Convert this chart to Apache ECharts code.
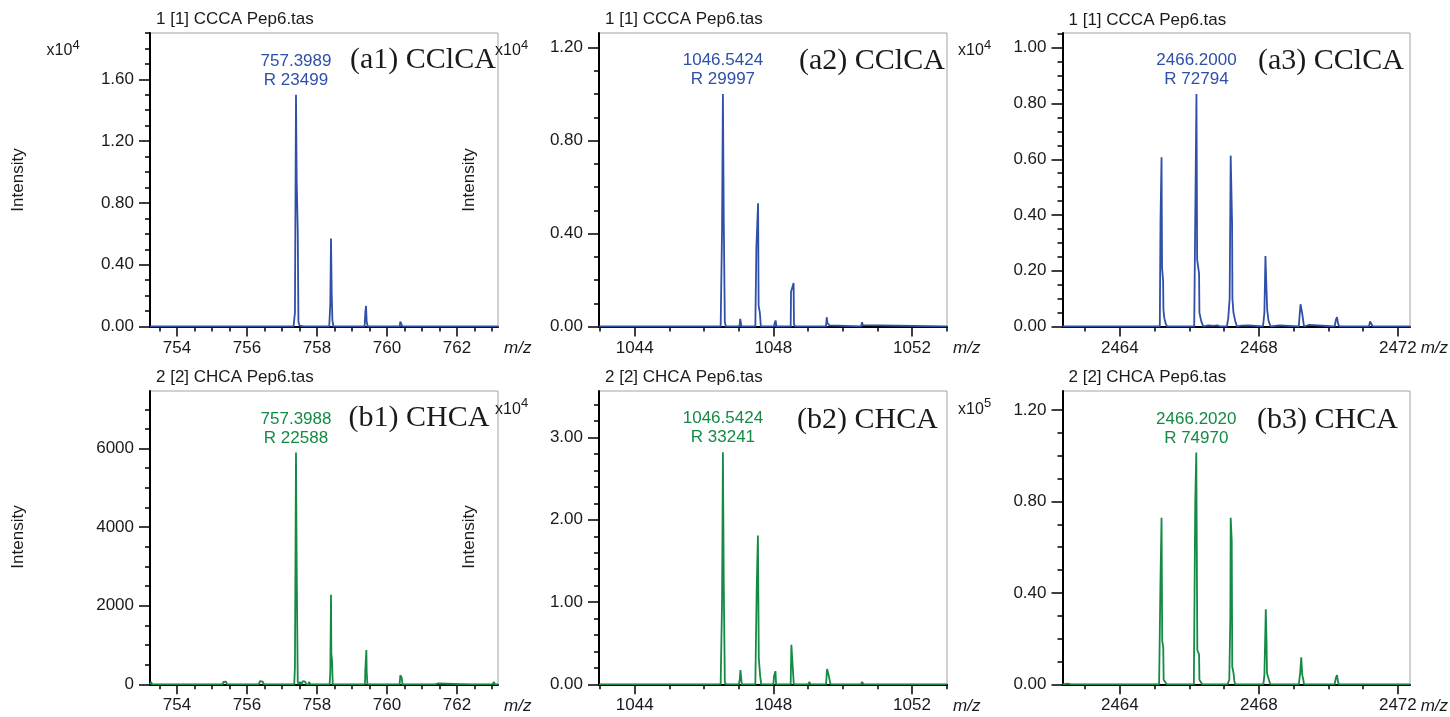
<!DOCTYPE html>
<html><head><meta charset="utf-8">
<script src="https://cdn.jsdelivr.net/npm/echarts@6/dist/echarts.min.js"></script>
<style>html,body{margin:0;padding:0;background:#fff}#c{width:1450px;height:717px}</style>
</head><body><div id="c"></div>
<script>
// ---------- data (m/z, intensity in displayed axis units) ----------
// (a1) CClCA, intensity x10^4
const specA1 = [[753.23,0],[756.33,0],[756.37,0.010],[756.40,0],
 [757.33,0],[757.37,0.09],[757.40,1.50],[757.42,0.95],[757.45,0.62],[757.47,0.03],[757.50,0.006],[757.55,0.004],[757.62,0],[757.66,0.007],[757.70,0],
 [758.35,0],[758.38,0.15],[758.40,0.57],[758.42,0.21],[758.44,0.04],[758.47,0],
 [759.36,0],[759.38,0.09],[759.40,0.133],[759.42,0.03],[759.45,0],
 [760.36,0],[760.38,0.031],[760.41,0.02],[760.44,0],
 [761.35,0],[761.38,0.008],[761.41,0],[763.17,0]];
// (a2) CClCA, x10^4
const specA2 = [[1042.97,0],[1045.50,0],[1045.53,0.004],[1045.56,0],[1046.01,0],[1046.04,0.004],[1046.07,0],
 [1046.48,0],[1046.52,0.42],[1046.545,1.00],[1046.57,0.45],[1046.60,0.02],[1046.63,0],
 [1047.01,0],[1047.03,0.01],[1047.045,0.033],[1047.065,0.033],[1047.08,0],
 [1047.48,0],[1047.51,0.34],[1047.56,0.53],[1047.575,0.09],[1047.61,0.06],[1047.64,0],
 [1048.02,0],[1048.04,0.015],[1048.065,0.026],[1048.09,0],
 [1048.50,0],[1048.51,0.15],[1048.585,0.187],[1048.595,0.01],[1048.63,0],
 [1049.04,0],[1049.07,0.007],[1049.10,0],
 [1049.52,0],[1049.54,0.04],[1049.56,0.015],[1049.62,0.005],[1049.66,0],
 [1050.53,0],[1050.56,0.019],[1050.58,0.006],[1050.61,0],[1053.01,0]];
// (a3) CClCA, x10^4
const specA3 = [[2462.35,0],[2462.40,0.004],[2462.45,0],[2463.00,0],[2463.05,0.003],[2463.08,0],[2463.70,0],[2463.73,0.005],[2463.76,0],
 [2464.55,0],[2464.58,0.005],[2464.62,0],[2464.80,0],[2464.83,0.004],[2464.86,0],
 [2465.15,0],[2465.17,0.38],[2465.20,0.607],[2465.215,0.21],[2465.245,0.165],[2465.255,0.06],[2465.28,0.03],[2465.32,0.01],[2465.36,0],
 [2465.60,0],[2465.63,0.004],[2465.70,0],
 [2466.14,0],[2466.205,0.834],[2466.225,0.24],[2466.28,0.19],[2466.29,0.05],[2466.34,0.02],[2466.40,0],
 [2466.55,0.004],[2466.60,0.004],[2466.70,0.002],[2466.80,0.004],[2466.90,0],
 [2467.08,0],[2467.12,0.03],[2467.16,0.10],[2467.19,0.613],[2467.23,0.37],[2467.24,0.10],[2467.27,0.05],[2467.32,0.02],[2467.37,0],
 [2467.50,0.003],[2467.70,0.004],[2467.75,0],
 [2468.12,0],[2468.16,0.05],[2468.19,0.253],[2468.22,0.137],[2468.24,0.06],[2468.28,0.02],[2468.34,0],
 [2468.60,0.004],[2468.65,0],
 [2469.15,0],[2469.18,0.05],[2469.20,0.08],[2469.23,0.08],[2469.25,0.045],[2469.27,0.04],[2469.30,0],
 [2469.45,0.006],[2469.50,0],
 [2470.18,0],[2470.22,0.025],[2470.25,0.034],[2470.28,0.01],[2470.32,0],
 [2471.17,0],[2471.20,0.018],[2471.24,0.012],[2471.28,0],[2471.50,0],[2471.55,0.005],[2471.60,0],[2472.10,0],[2472.15,0.004],[2472.35,0]];
// (b1) CHCA, raw counts
const specB1 = [[753.23,0],[753.26,60],[753.29,0],[753.36,0],[753.38,25],[753.40,0],[753.62,0],[753.64,40],[753.66,0],
 [754.30,0],[754.32,20],[754.34,0],[754.55,0],[754.57,30],[754.59,0],[754.84,0],[754.86,25],[754.88,0],
 [755.30,0],[755.33,60],[755.37,45],[755.40,70],[755.43,0],[755.60,0],[755.62,30],[755.64,0],
 [756.34,0],[756.37,80],[756.41,60],[756.45,70],[756.48,0],[756.70,0],[756.72,30],[756.74,0],[756.88,0],[756.90,40],[756.92,0],
 [757.35,0],[757.37,450],[757.40,5900],[757.42,3000],[757.45,80],[757.47,0],[757.52,60],[757.55,0],[757.60,80],[757.62,30],[757.66,70],[757.69,0],[757.75,0],[757.78,60],[757.80,0],
 [758.36,0],[758.38,300],[758.40,2280],[758.41,790],[758.43,600],[758.45,0],[758.55,0],[758.57,30],[758.59,0],[758.80,0],[758.82,20],[758.84,0],
 [759.37,0],[759.38,360],[759.41,870],[759.42,300],[759.44,0],[759.55,0],[759.57,20],[759.59,0],
 [760.36,0],[760.38,230],[760.40,180],[760.42,170],[760.44,0],
 [761.38,0],[761.40,50],[761.45,20],[761.50,0],[762.38,0],[762.42,40],[762.46,0],[763.02,0],[763.05,60],[763.08,0],[763.17,0]];
// (b2) CHCA, x10^4
const specB2 = [[1042.97,0],[1044.44,0],[1044.47,0.012],[1044.50,0],[1045.50,0],[1045.53,0.006],[1045.56,0],
 [1046.48,0],[1046.52,1.0],[1046.545,2.82],[1046.57,1.2],[1046.60,0.03],[1046.63,0],
 [1047.00,0],[1047.03,0.05],[1047.05,0.174],[1047.07,0.17],[1047.09,0],
 [1047.48,0],[1047.52,1.17],[1047.555,1.81],[1047.58,0.32],[1047.62,0.10],[1047.65,0],
 [1048.00,0],[1048.02,0.10],[1048.06,0.16],[1048.08,0],
 [1048.50,0],[1048.52,0.48],[1048.55,0.46],[1048.57,0.46],[1048.59,0],
 [1049.01,0],[1049.04,0.03],[1049.07,0],
 [1049.52,0],[1049.55,0.186],[1049.60,0.10],[1049.65,0],
 [1050.53,0],[1050.56,0.03],[1050.60,0],[1051.54,0],[1051.57,0.01],[1051.60,0],[1053.01,0]];
// (b3) CHCA, x10^5
const specB3 = [[2462.35,0],[2462.50,0.003],[2462.60,0],[2463.20,0],[2463.25,0.003],[2463.30,0],[2464.08,0],[2464.12,0.006],[2464.16,0],[2464.62,0],[2464.66,0.006],[2464.70,0],
 [2465.13,0],[2465.17,0.46],[2465.20,0.729],[2465.22,0.19],[2465.25,0.16],[2465.26,0.02],[2465.30,0.015],[2465.35,0],[2465.52,0],[2465.55,0.005],[2465.58,0],
 [2466.13,0],[2466.17,0.80],[2466.20,1.015],[2466.23,0.15],[2466.28,0.13],[2466.29,0.02],[2466.33,0.01],[2466.37,0],
 [2466.48,0],[2466.52,0.005],[2466.56,0],
 [2467.10,0],[2467.15,0.02],[2467.18,0.30],[2467.19,0.729],[2467.22,0.63],[2467.235,0.077],[2467.27,0.05],[2467.30,0.01],[2467.33,0],
 [2468.13,0],[2468.16,0.04],[2468.20,0.328],[2468.22,0.20],[2468.235,0.048],[2468.29,0.02],[2468.33,0],
 [2469.15,0],[2469.19,0.05],[2469.22,0.118],[2469.25,0.04],[2469.28,0.02],[2469.30,0],
 [2470.18,0],[2470.22,0.03],[2470.25,0.04],[2470.28,0.01],[2470.31,0],
 [2471.18,0],[2471.22,0.007],[2471.26,0],[2472.35,0]];

// annotated peaks [m/z, intensity] and their labels
const peaksA = [[757.40,1.50],[1046.545,1.00],[2466.205,0.834]];
const peaksB = [[757.40,5900],[1046.545,2.82],[2466.20,1.015]];
const peakLabelsA = ['757.3989\nR 23499','1046.5424\nR 29997','2466.2000\nR 72794'];
const peakLabelsB = ['757.3988\nR 22588','1046.5424\nR 33241','2466.2020\nR 74970'];

// tick labels
const xTicksC1 = [754,756,758,760,762];
const xTicksC2 = [1044,1048,1052];
const xTicksC3 = [2464,2468,2472];
const yTicksA1 = [0,0.4,0.8,1.2,1.6];
const yTicksA2 = [0,0.4,0.8,1.2];
const yTicksA3 = [0,0.2,0.4,0.6,0.8,1.0];
const yTicksB1 = [0,2000,4000,6000];
const yTicksB2 = [0,1,2,3];
const yTicksB3 = [0,0.4,0.8,1.2];

const panelTitles = ['1 [1] CCCA Pep6.tas','2 [2] CHCA Pep6.tas'];
const panelTags = ['(a1) CClCA','(a2) CClCA','(a3) CClCA','(b1) CHCA','(b2) CHCA','(b3) CHCA'];

// ---------- layout ----------
const BLUE = '#2f4fa8', GREEN = '#158a45';
const SANS = '"Liberation Sans", Arial, sans-serif';
const colL = [150, 599, 1062.5], colW = [348, 348, 347.5];
const rowT = [33, 391], rowH = [293.5, 293.3];
const xRange = [[753.23,763.17],[1042.97,1053.01],[2462.35,2472.35]];
const xTicks = [xTicksC1, xTicksC2, xTicksC3];
const xMinor = [0.5, 1, 1];

const panels = [
 {r:0,c:0,spec:specA1,color:BLUE,yMax:1.9,  yTicks:yTicksA1,yMinor:0.1, dec:2,peak:peaksA[0],lab:peakLabelsA[0]},
 {r:0,c:1,spec:specA2,color:BLUE,yMax:1.263,yTicks:yTicksA2,yMinor:0.1, dec:2,peak:peaksA[1],lab:peakLabelsA[1]},
 {r:0,c:2,spec:specA3,color:BLUE,yMax:1.053,yTicks:yTicksA3,yMinor:0.05,dec:2,peak:peaksA[2],lab:peakLabelsA[2]},
 {r:1,c:0,spec:specB1,color:GREEN,yMax:7465,yTicks:yTicksB1,yMinor:500, dec:0,peak:peaksB[0],lab:peakLabelsB[0]},
 {r:1,c:1,spec:specB2,color:GREEN,yMax:3.566,yTicks:yTicksB2,yMinor:0.2,dec:2,peak:peaksB[1],lab:peakLabelsB[1]},
 {r:1,c:2,spec:specB3,color:GREEN,yMax:1.284,yTicks:yTicksB3,yMinor:0.1,dec:2,peak:peaksB[2],lab:peakLabelsB[2]}
];

function steps(min, max, step) {
  const out = [];
  for (let k = Math.ceil(min / step - 1e-9); k * step <= max + 1e-9; k++) out.push(+(k * step).toFixed(6));
  return out;
}

const grid = [], xAxis = [], yAxis = [], series = [];
const tickStyle = {color:'#000', width:1.5};
panels.forEach((p, i) => {
  grid.push({left:colL[p.c], top:rowT[p.r], width:colW[p.c], height:rowH[p.r],
    show:true, borderColor:'#a3a3a3', borderWidth:1, backgroundColor:'transparent'});
  const [xmin, xmax] = xRange[p.c];
  xAxis.push({type:'value', gridIndex:i, min:xmin, max:xmax, position:'bottom',
    axisLine:{show:true, onZero:false, lineStyle:{color:'#000', width:2}},
    axisTick:{show:true, customValues:xTicks[p.c], length:10, lineStyle:tickStyle},
    axisLabel:{show:true, customValues:xTicks[p.c], margin:13, fontSize:17, color:'#1a1a1a', fontFamily:SANS,
      formatter:(v) => String(Math.round(v))},
    splitLine:{show:false}, minorTick:{show:false},
    name:'m/z', nameLocation:'end', nameGap:6,
    nameTextStyle:{fontStyle:'italic', fontSize:17, color:'#1a1a1a', fontFamily:SANS, verticalAlign:'top', padding:[13,0,0,0]}});
  xAxis.push({type:'value', gridIndex:i, min:xmin, max:xmax, position:'bottom',
    axisLine:{show:false}, axisLabel:{show:false}, splitLine:{show:false},
    axisTick:{show:true, customValues:steps(xmin, xmax, xMinor[p.c]), length:5, lineStyle:tickStyle}});
  yAxis.push({type:'value', gridIndex:i, min:0, max:p.yMax, position:'left',
    axisLine:{show:true, onZero:false, lineStyle:{color:'#000', width:2}},
    axisTick:{show:true, customValues:p.yTicks, length:11, lineStyle:tickStyle},
    axisLabel:{show:true, customValues:p.yTicks, margin:16, fontSize:17, color:'#1a1a1a', fontFamily:SANS,
      formatter:(v) => Number(v).toFixed(p.dec)},
    splitLine:{show:false}});
  yAxis.push({type:'value', gridIndex:i, min:0, max:p.yMax, position:'left',
    axisLine:{show:false}, axisLabel:{show:false}, splitLine:{show:false},
    axisTick:{show:true, customValues:steps(0, p.yMax, p.yMinor), length:5, lineStyle:tickStyle}});
  series.push({type:'line', xAxisIndex:2*i, yAxisIndex:2*i, data:p.spec, showSymbol:false, symbol:'none',
    silent:true, animation:false, lineStyle:{color:p.color, width:1.8}, itemStyle:{color:p.color},
    markPoint:{symbol:'circle', symbolSize:0.1, silent:true, itemStyle:{color:'rgba(0,0,0,0)'},
      label:{show:true, position:'top', distance:5, formatter:p.lab, color:p.color, fontSize:17, lineHeight:19, fontFamily:SANS},
      data:[{coord:p.peak}]}});
});

// ---------- texts ----------
const graphic = [];
function txt(x, y, text, font, extra) {
  graphic.push(Object.assign({type:'text', x:x, y:y, silent:true,
    style:{text:text, font:font, fill:'#1a1a1a', align:'left', verticalAlign:'middle', textAlign:'left', textVerticalAlign:'middle'}}, extra || {}));
}
const titlePos = [[156,19],[605,19],[1068.5,20],[156,377],[605,377],[1068.5,377]];
titlePos.forEach((t, i) => txt(t[0], t[1], panelTitles[i < 3 ? 0 : 1], '17px ' + SANS));
const tagPos = [[350,60],[799,61],[1258,61],[348.5,418],[797,420],[1257,420]];
tagPos.forEach((t, i) => txt(t[0], t[1], panelTags[i], '30px "Liberation Serif", "Times New Roman", serif'));
// exponent labels
const expPos = [[46.5,51,'4'],[495,51,'4'],[958,51,'4'],[495,409.5,'4'],[958,409.5,'5']];
expPos.forEach(e => {
  txt(e[0], e[1], 'x10', '16px ' + SANS);
  txt(e[0] + 26, e[1] - 6, e[2], '13px ' + SANS);
});
// rotated axis titles
[[18.5,180],[469.5,180],[18.5,537],[469.5,537]].forEach(p => {
  graphic.push({type:'text', x:p[0], y:p[1], rotation:Math.PI/2, silent:true,
    style:{text:'Intensity', font:'17px ' + SANS, fill:'#1a1a1a', align:'center', verticalAlign:'middle', textAlign:'center', textVerticalAlign:'middle'}});
});

const chart = echarts.init(document.getElementById('c'), null, {renderer:'canvas'});
chart.setOption({animation:false, backgroundColor:'#fff', textStyle:{fontFamily:SANS},
  grid, xAxis, yAxis, series, graphic});
</script>
</body></html>
